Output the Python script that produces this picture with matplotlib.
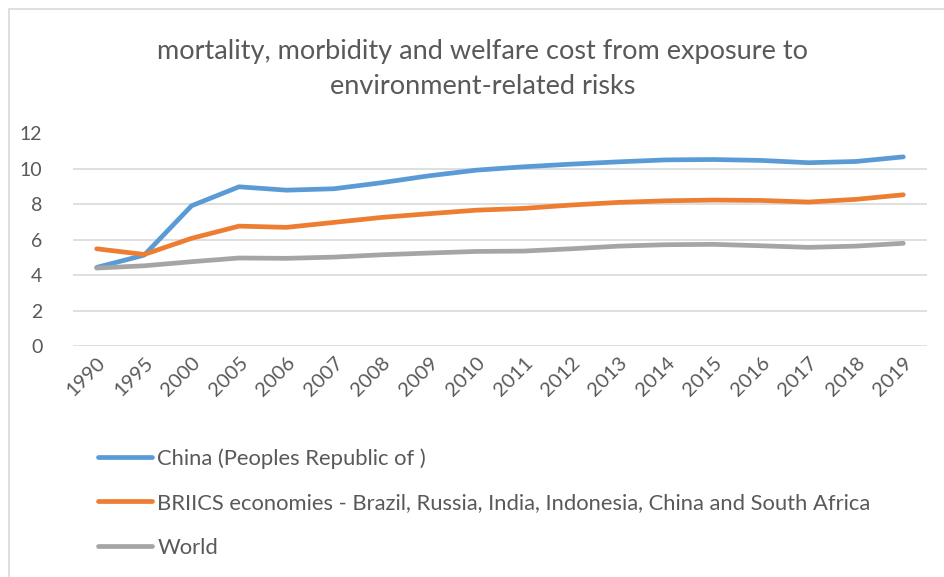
import matplotlib.pyplot as plt
from matplotlib.patches import Rectangle

years = ["1990", "1995", "2000", "2005", "2006", "2007", "2008", "2009", "2010",
         "2011", "2012", "2013", "2014", "2015", "2016", "2017", "2018", "2019"]
china = [4.44, 5.13, 7.92, 8.99, 8.80, 8.88, 9.22, 9.61, 9.93,
         10.12, 10.27, 10.40, 10.51, 10.53, 10.48, 10.35, 10.42, 10.68]
briics = [5.49, 5.17, 6.08, 6.77, 6.70, 6.98, 7.26, 7.47, 7.67,
          7.77, 7.96, 8.11, 8.20, 8.24, 8.22, 8.13, 8.28, 8.54]
world = [4.40, 4.53, 4.76, 4.97, 4.95, 5.02, 5.15, 5.25, 5.34,
         5.36, 5.49, 5.64, 5.72, 5.74, 5.66, 5.57, 5.64, 5.80]

labels = ["China (Peoples Republic of )",
          "BRIICS economies - Brazil, Russia, India, Indonesia, China and South Africa",
          "World"]
colors = ["#5B9BD5", "#ED7D31", "#A5A5A5"]
text_color = "#595959"

plt.rcParams["font.family"] = ["Lato", "DejaVu Sans"]

W, H = 945, 577
fig = plt.figure(figsize=(W / 100, H / 100), dpi=100)
ax = fig.add_axes([73 / W, 1 - 346 / H, (927 - 73) / W, (346 - 133.5) / H])

x = list(range(len(years)))
for vals, lab, c in zip([china, briics, world], labels, colors):
    ax.plot(x, vals, color=c, lw=3.4, label=lab, solid_capstyle="round",
            solid_joinstyle="round")

ax.set_ylim(0, 12)
ax.set_xlim(-0.5, len(years) - 0.5)
ax.set_yticks(range(0, 13, 2))
ax.set_xticks(x)
ax.set_xticklabels(years, rotation=45, ha="right", rotation_mode="anchor")
ax.tick_params(axis="both", length=0, labelsize=14, colors=text_color)
ax.tick_params(axis="x", labelsize=14.5, pad=6)
ax.tick_params(axis="y", pad=22)
ax.grid(axis="y", color="#D9D9D9", lw=1.2)
ax.set_axisbelow(True)
for s in ax.spines.values():
    s.set_visible(False)

fig.text(483 / W, 1 - 69 / H,
         "mortality, morbidity and welfare cost from exposure to\nenvironment-related risks",
         ha="center", va="center", fontsize=19.5, color=text_color, linespacing=1.45)

fig.legend(loc="upper left", bbox_to_anchor=(98 / W, 1 - 448 / H), frameon=False,
           fontsize=15.8, handlelength=2.45, handletextpad=0.25, labelspacing=1.12,
           borderpad=0, borderaxespad=0, labelcolor=text_color)

fig.patches.append(Rectangle((9 / W, -0.1), 1.2, 1 - 9 / H + 0.1,
                             transform=fig.transFigure, fill=False,
                             edgecolor="#D9D9D9", lw=1.2))

fig.savefig("out.png", dpi=100)
